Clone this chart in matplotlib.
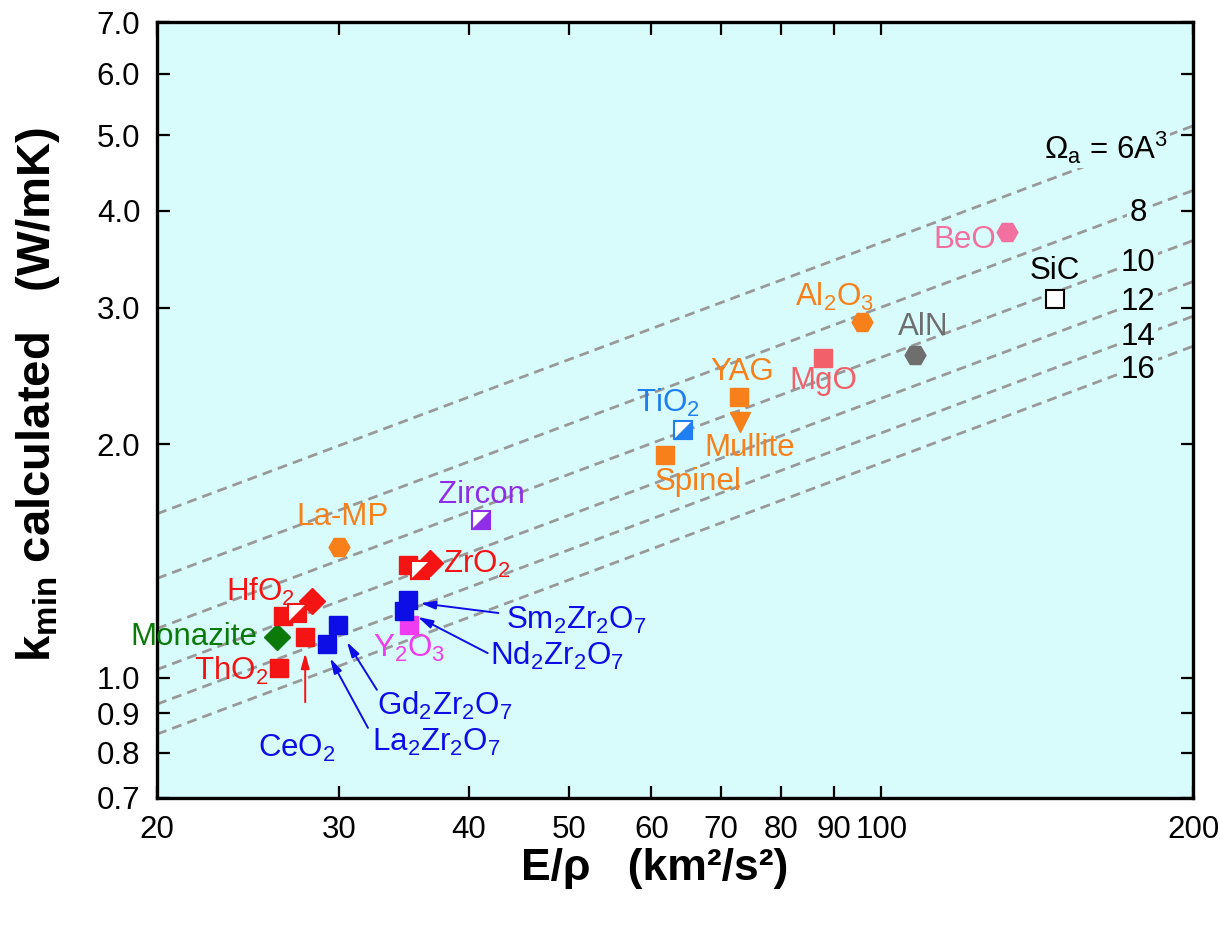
import numpy as np
import matplotlib
matplotlib.use("Agg")
import matplotlib.pyplot as plt
from matplotlib.ticker import FixedLocator, NullLocator, FormatStrFormatter

plt.rcParams['font.family'] = ['Liberation Sans', 'DejaVu Sans']
plt.rcParams['mathtext.fontset'] = 'custom'
plt.rcParams['mathtext.rm'] = 'Liberation Sans'
plt.rcParams['mathtext.it'] = 'Liberation Sans:italic'
plt.rcParams['mathtext.bf'] = 'Liberation Sans:bold'

# --- data ---
names = ['ThO2', 'Monazite', 'CeO2', 'HfO2 a', 'HfO2 c', 'HfO2 b',
         'La2Zr2O7', 'Gd2Zr2O7', 'La-MP', 'Y2O3', 'Nd2Zr2O7', 'Sm2Zr2O7',
         'ZrO2 a', 'ZrO2 c', 'ZrO2 b', 'Zircon', 'Spinel', 'TiO2', 'YAG',
         'Mullite', 'MgO', 'Al2O3', 'AlN', 'BeO', 'SiC']
e_rho = [26.2, 26.1, 27.8, 26.45, 28.2, 27.3,
         29.2, 29.9, 29.97, 35.0, 34.6, 34.9,
         34.9, 36.7, 35.9, 41.1, 61.8, 64.4, 72.9,
         73.0, 87.9, 95.8, 107.8, 132.3, 147.2]
k_min = [1.029, 1.128, 1.13, 1.20, 1.256, 1.212,
         1.105, 1.17, 1.474, 1.17, 1.219, 1.26,
         1.398, 1.406, 1.377, 1.597, 1.937, 2.086, 2.30,
         2.137, 2.58, 2.875, 2.607, 3.75, 3.077]

# atomic volumes for the Clarke minimum-conductivity lines (A^3)
omegas = [6, 8, 10, 12, 14, 16]

xticks = [20, 30, 40, 50, 60, 70, 80, 90, 100, 200]
yticks = [0.7, 0.8, 0.9, 1.0, 2.0, 3.0, 4.0, 5.0, 6.0, 7.0]

RED = '#f51414'
BLUE = '#0d0de6'
ORANGE = '#f7801a'
GREEN = '#0b7a0b'
PURPLE = '#8f2ee6'
MAGENTA = '#f03cf0'
SKY = '#1f7ff0'
SALMON = '#f2606a'
PINK = '#f2709f'
GREY = '#6e6e6e'
BG = '#d8fcfc'

# marker kind per entry: s square, h half square, D diamond, H hexagon, v triangle, o open square
style = {
    'ThO2': ('s', RED), 'Monazite': ('D', GREEN), 'CeO2': ('s', RED),
    'HfO2 a': ('s', RED), 'HfO2 b': ('h', RED), 'HfO2 c': ('D', RED),
    'La2Zr2O7': ('s', BLUE), 'Gd2Zr2O7': ('s', BLUE), 'La-MP': ('H', ORANGE),
    'Y2O3': ('s', MAGENTA), 'Nd2Zr2O7': ('s', BLUE), 'Sm2Zr2O7': ('s', BLUE),
    'ZrO2 a': ('s', RED), 'ZrO2 b': ('h', RED), 'ZrO2 c': ('D', RED),
    'Zircon': ('h', PURPLE), 'Spinel': ('s', ORANGE), 'TiO2': ('h', SKY),
    'YAG': ('s', ORANGE), 'Mullite': ('v', ORANGE), 'MgO': ('s', SALMON),
    'Al2O3': ('H', ORANGE), 'AlN': ('H', GREY), 'BeO': ('H', PINK),
    'SiC': ('o', 'black'),
}

fig = plt.figure(figsize=(12.2, 9.25), dpi=100)
ax = fig.add_axes([0.1287, 0.1373, 0.8493, 0.8389])
ax.set_facecolor(BG)
ax.set_xscale('log')
ax.set_yscale('log')
ax.set_xlim(20, 200)
ax.set_ylim(0.7, 7.0)

# Clarke model: k_min = 0.87 kB Omega^(-2/3) (E/rho)^(1/2)
kB = 1.380649e-23
xs = np.array([20.0, 200.0])
for om in omegas:
    k = 0.87 * kB * (om * 1e-30) ** (-2.0 / 3.0) * np.sqrt(xs * 1e6)
    ax.plot(xs, k, ls=(0, (3.6, 2.2)), color='#999999', lw=2.0, zorder=1)

tri = [(-1, -1), (1, -1), (1, 1)]
for n, x, y in zip(names, e_rho, k_min):
    m, c = style[n]
    if m == 's':
        ax.plot(x, y, 's', ms=12.5, color=c, mec=c, zorder=3)
    elif m == 'D':
        ax.plot(x, y, 'D', ms=13, color=c, mec=c, zorder=3)
    elif m == 'H':
        ax.plot(x, y, 'H', ms=15, color=c, mec=c, zorder=3)
    elif m == 'v':
        ax.plot(x, y, 'v', ms=14, color=c, mec=c, zorder=3)
    elif m == 'o':
        ax.plot(x, y, 's', ms=12.5, mfc='white', mec=c, mew=1.5, zorder=3)
    elif m == 'h':
        ax.plot(x, y, 's', ms=12.5, mfc='white', mec=c, mew=1.5, zorder=4)
        ax.plot(x, y, marker=tri, ms=12.5, color=c, mec=c, mew=1.5, zorder=4)

fs = 22.5
labels = [
    ('ThO$_2$', 25.6, 1.02, RED, 'right'),
    ('Monazite', 25.0, 1.128, GREEN, 'right'),
    ('HfO$_2$', 27.2, 1.29, RED, 'right'),
    ('CeO$_2$', 27.3, 0.81, BLUE, 'center'),
    ('La-MP', 30.2, 1.611, ORANGE, 'center'),
    ('Zircon', 41.1, 1.72, PURPLE, 'center'),
    ('ZrO$_2$', 37.8, 1.40, RED, 'left'),
    ('Gd$_2$Zr$_2$O$_7$', 32.6, 0.92, BLUE, 'left'),
    ('La$_2$Zr$_2$O$_7$', 32.25, 0.825, BLUE, 'left'),
    ('Y$_2$O$_3$', 35.0, 1.09, MAGENTA, 'center'),
    ('Sm$_2$Zr$_2$O$_7$', 43.4, 1.185, BLUE, 'left'),
    ('Nd$_2$Zr$_2$O$_7$', 41.9, 1.066, BLUE, 'left'),
    ('TiO$_2$', 62.2, 2.26, SKY, 'center'),
    ('Spinel', 66.6, 1.79, ORANGE, 'center'),
    ('YAG', 73.4, 2.48, ORANGE, 'center'),
    ('Mullite', 74.6, 1.98, ORANGE, 'center'),
    ('MgO', 88.0, 2.41, SALMON, 'center'),
    ('Al$_2$O$_3$', 90.1, 3.10, ORANGE, 'center'),
    ('AlN', 109.7, 2.83, GREY, 'center'),
    ('BeO', 120.5, 3.67, PINK, 'center'),
    ('SiC', 147.2, 3.34, 'black', 'center'),
]
for t, x, y, c, ha in labels:
    ax.text(x, y, t, color=c, fontsize=fs, ha=ha, va='center', zorder=5)

# arrows pointing at crowded symbols
arrows = [
    ((27.8, 1.076), (27.8, 0.930), RED),
    ((29.38, 1.060), (31.96, 0.862), BLUE),
    ((30.5, 1.112), (32.6, 0.965), BLUE),
    ((35.9, 1.248), (42.7, 1.212), BLUE),
    ((35.7, 1.198), (41.7, 1.076), BLUE),
]
for head, tail, c in arrows:
    ax.annotate('', xy=head, xytext=tail,
                arrowprops=dict(arrowstyle='-|>,head_length=0.9,head_width=0.25',
                                color=c, lw=1.4, shrinkA=0, shrinkB=0), zorder=5)

# labels of the dashed lines
box = dict(facecolor=BG, edgecolor='none', pad=1.5)
ax.text(189, 4.82, r'$\Omega_\mathrm{a}$ = 6A$^3$', fontsize=fs, ha='right', va='center',
        bbox=box, zorder=2)
for t, y in zip(['8', '10', '12', '14', '16'], [3.97, 3.42, 3.05, 2.75, 2.49]):
    ax.text(177, y, t, fontsize=fs, ha='center', va='center', bbox=box, zorder=2)

ax.xaxis.set_major_locator(FixedLocator(xticks))
ax.xaxis.set_minor_locator(NullLocator())
ax.xaxis.set_major_formatter(FormatStrFormatter('%d'))
ax.yaxis.set_major_locator(FixedLocator(yticks))
ax.yaxis.set_minor_locator(NullLocator())
ax.yaxis.set_major_formatter(FormatStrFormatter('%.1f'))
ax.tick_params(which='both', direction='in', length=9, width=1.6, labelsize=22.5,
               top=True, right=True, pad=12)
for sp in ax.spines.values():
    sp.set_linewidth(2.4)

ax.set_xlabel('E/\u03c1   (km\u00b2/s\u00b2)', fontsize=32, fontweight='bold')
ax.set_ylabel(r'$\mathbf{k_{min}}$ calculated   (W/mK)', fontsize=34, fontweight='bold')
ax.xaxis.set_label_coords(0.48, -0.064)
ax.yaxis.set_label_coords(-0.092, 0.52)

fig.savefig('out.png', dpi=100)
